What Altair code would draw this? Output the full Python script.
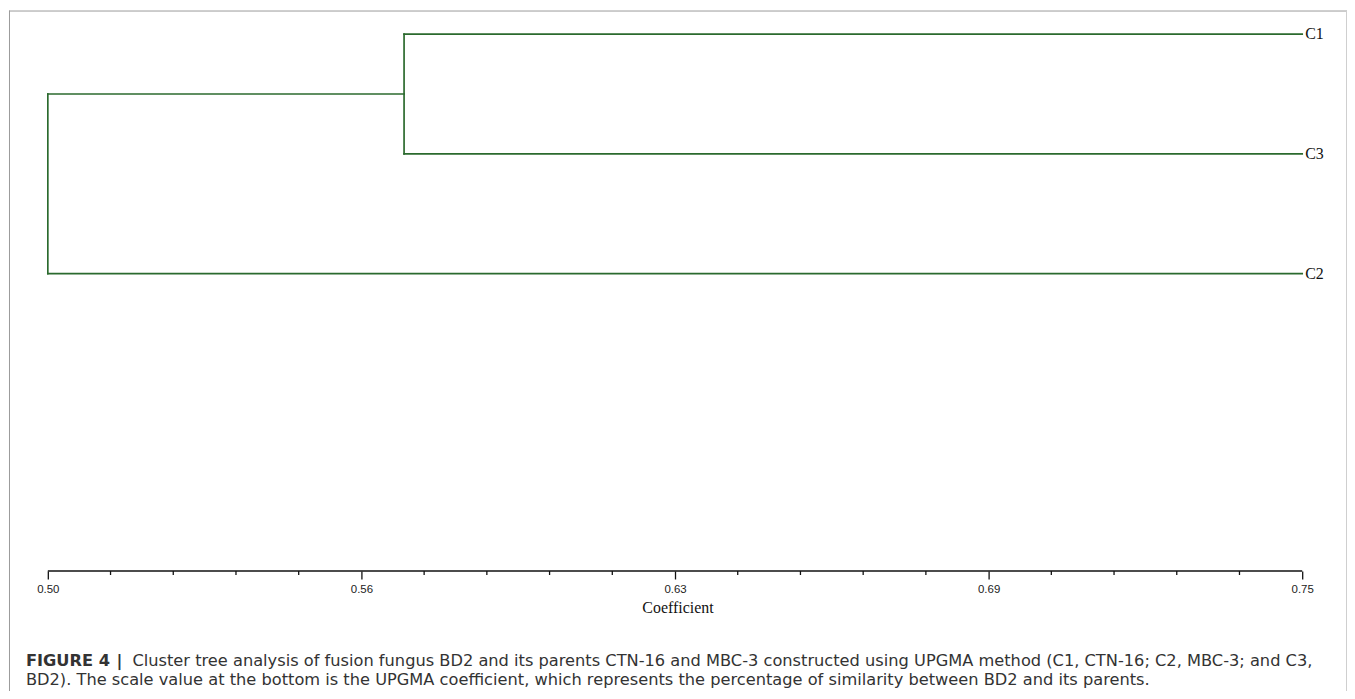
import altair as alt
import pandas as pd

# ---------------- data ----------------
leaf_names = ["C1", "C3", "C2"]          # top-to-bottom leaf order
leaf_pos = [0, 1, 2]
leaf_coef = [0.75, 0.75, 0.75]

# internal nodes: coefficient, y of upper child, y of lower child,
# coefficient of upper child, coefficient of lower child
node_coef = [0.571, 0.50]
node_upper_y = [0.0, 0.5]
node_lower_y = [1.0, 2.0]
node_upper_child_coef = [0.75, 0.571]
node_lower_child_coef = [0.75, 0.75]

axis_span = [0.50, 0.75]
major_ticks = [0.5, 0.5625, 0.625, 0.6875, 0.75]
major_labels = ["0.50", "0.56", "0.63", "0.69", "0.75"]
minor_ticks = [0.5125, 0.525, 0.5375, 0.55, 0.575, 0.5875, 0.6, 0.6125,
               0.6375, 0.65, 0.6625, 0.675, 0.7, 0.7125, 0.725, 0.7375]

axis_title = "Coefficient"
caption_bold = "FIGURE 4"
caption_sep = "|"
caption_line1 = ("Cluster tree analysis of fusion fungus BD2 and its parents CTN-16 and "
                 "MBC-3 constructed using UPGMA method (C1, CTN-16; C2, MBC-3; and C3,")
caption_line2 = ("BD2). The scale value at the bottom is the UPGMA coefficient, which "
                 "represents the percentage of similarity between BD2 and its parents.")

# ---------------- layout ----------------
W, H, PAD_B = 1345, 564, 119
PX_PER_UNIT = 5040.0
X0_PX = 40.0
x_domain = [0.5 - X0_PX / PX_PER_UNIT, 0.5 + (W - X0_PX) / PX_PER_UNIT]
Y_FIRST, Y_STEP = 24.7, 120.3
y_domain = [-Y_FIRST / Y_STEP, (H - Y_FIRST) / Y_STEP]

GREEN = "#2b6a2e"
CAP_SIZE = 16.3

# segments of the dendrogram
segs = []
for c, uy, ly, uc, lc in zip(node_coef, node_upper_y, node_lower_y,
                             node_upper_child_coef, node_lower_child_coef):
    segs.append({"x": c, "x2": c, "y": uy, "y2": ly})
    segs.append({"x": c, "x2": uc, "y": uy, "y2": uy})
    segs.append({"x": c, "x2": lc, "y": ly, "y2": ly})
seg_df = pd.DataFrame(segs)

leaf_df = pd.DataFrame({"x": leaf_coef, "y": leaf_pos, "name": leaf_names})
axis_df = pd.DataFrame({"x": [axis_span[0]], "x2": [axis_span[1]]})
minor_df = pd.DataFrame({"x": minor_ticks})
one = pd.DataFrame({"k": [0]})

label_expr = " : ".join(
    f"datum.value == {v} ? '{l}'" for v, l in zip(major_ticks, major_labels)
) + " : ''"

xscale = alt.Scale(domain=x_domain, nice=False, zero=False)
yscale = alt.Scale(domain=y_domain, nice=False, zero=False, reverse=True)
x_axis = alt.Axis(
    values=major_ticks, labelExpr=label_expr, domain=False, grid=False,
    ticks=True, tickSize=8, tickColor="#111", tickWidth=1.3,
    labelFont="Liberation Sans", labelFontSize=11.5, labelColor="#222",
    labelPadding=5, labelOverlap=False, labelFlush=False, labelBound=False,
    title=axis_title, titleFont="Liberation Serif", titleFontSize=16,
    titleFontWeight="normal", titleColor="#111", titleY=42,
    titleBaseline="alphabetic",
)

dendro = alt.Chart(seg_df).mark_rule(color=GREEN, strokeWidth=1.7, strokeCap="square").encode(
    x=alt.X("x:Q", scale=xscale, axis=x_axis),
    x2="x2:Q",
    y=alt.Y("y:Q", scale=yscale, axis=None),
    y2="y2:Q",
)

leaves = alt.Chart(leaf_df).mark_text(
    align="left", baseline="middle", dx=3, font="Liberation Serif",
    fontSize=16, color="#111"
).encode(
    x=alt.X("x:Q", scale=xscale, axis=x_axis),
    y=alt.Y("y:Q", scale=yscale, axis=None),
    text="name:N",
)

axis_line = alt.Chart(axis_df).mark_rule(color="#111", strokeWidth=1.3).encode(
    x=alt.X("x:Q", scale=xscale, axis=x_axis),
    x2="x2:Q",
    y=alt.value(H),
)

minor = alt.Chart(minor_df).mark_rule(color="#111", strokeWidth=1.3).encode(
    x=alt.X("x:Q", scale=xscale, axis=x_axis),
    y=alt.value(H),
    y2=alt.value(H + 4),
)

frame_left = alt.Chart(one).mark_rule(color="#9a9a9a", strokeWidth=1).encode(
    x=alt.value(1.5), y=alt.value(1), y2=alt.value(H + PAD_B + 5))
frame_top = alt.Chart(one).mark_rule(color="#9a9a9a", strokeWidth=1).encode(
    y=alt.value(1.5), x=alt.value(1), x2=alt.value(W))
frame_right = alt.Chart(one).mark_rule(color="#cfcfcf", strokeWidth=1).encode(
    x=alt.value(W - 0.5), y=alt.value(1), y2=alt.value(H + PAD_B + 5))

cap_font = "DejaVu Sans"
cap_b = alt.Chart(one).mark_text(
    text=caption_bold, align="left", baseline="alphabetic", font=cap_font,
    fontSize=CAP_SIZE, fontWeight="bold", color="#333"
).encode(x=alt.value(18), y=alt.value(659))
cap_s = alt.Chart(one).mark_text(
    text=caption_sep, align="center", baseline="alphabetic", font=cap_font,
    fontSize=CAP_SIZE, fontWeight="bold", color="#333"
).encode(x=alt.value(112), y=alt.value(659))
cap_1 = alt.Chart(one).mark_text(
    text=caption_line1, align="left", baseline="alphabetic", font=cap_font,
    fontSize=CAP_SIZE, color="#333"
).encode(x=alt.value(125), y=alt.value(659))
cap_2 = alt.Chart(one).mark_text(
    text=caption_line2, align="left", baseline="alphabetic", font=cap_font,
    fontSize=CAP_SIZE, color="#333"
).encode(x=alt.value(18), y=alt.value(679))

chart = alt.layer(
    frame_left, frame_top, frame_right,
    dendro, leaves, axis_line, minor,
    cap_b, cap_s, cap_1, cap_2,
).properties(
    width=W, height=H,
    autosize=alt.AutoSizeParams(type="none"),
    padding={"left": 0, "top": 0, "right": 0, "bottom": PAD_B},
    background="white",
).configure_view(stroke=None)

chart.save("out.html", embed_options={"renderer": "svg", "actions": False})
